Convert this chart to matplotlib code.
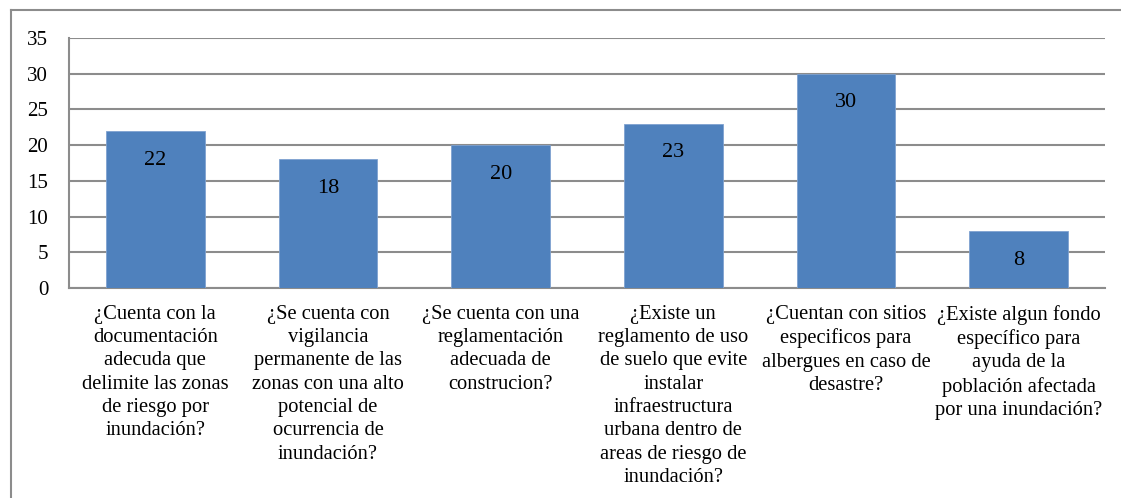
import matplotlib
matplotlib.use("Agg")
import matplotlib.pyplot as plt
from matplotlib.lines import Line2D

categories = [
    "¿Cuenta con la\ndocumentación\nadecuda que\ndelimite las zonas\nde riesgo por\ninundación?",
    "¿Se cuenta con\nvigilancia\npermanente de las\nzonas con una alto\npotencial de\nocurrencia de\ninundación?",
    "¿Se cuenta con una\nreglamentación\nadecuada de\nconstrucion?",
    "¿Existe un\nreglamento de uso\nde suelo que evite\ninstalar\ninfraestructura\nurbana dentro de\nareas de riesgo de\ninundación?",
    "¿Cuentan con sitios\nespecificos para\nalbergues en caso de\ndesastre?",
    "¿Existe algun fondo\nespecífico para\nayuda de la\npoblación afectada\npor una inundación?",
]
values = [22, 18, 20, 23, 30, 8]
y_ticks = [0, 5, 10, 15, 20, 25, 30, 35]

plt.rcParams["font.family"] = ["Liberation Serif", "DejaVu Serif"]

fig = plt.figure(figsize=(11.21, 4.98), dpi=100)
ax = fig.add_axes([69 / 1121, 1 - 288 / 498, (1105 - 69) / 1121, (288 - 38) / 498])

x = range(len(values))
bars = ax.bar(x, values, width=0.57, color="#4F81BD", edgecolor="#7FA2D0", linewidth=0.6, zorder=3)

for b, v in zip(bars, values):
    ax.annotate(str(v), (b.get_x() + b.get_width() / 2, v), xytext=(0, -21),
                textcoords="offset points", ha="center", va="center", fontsize=16, zorder=4)

ax.set_xlim(-0.5, len(values) - 0.5)
ax.set_ylim(0, 35)
ax.set_yticks(y_ticks)
ax.set_xticks(list(x))
ax.set_xticklabels(categories, fontsize=14.8, linespacing=1.31, ha="center", va="top")
ax.tick_params(axis="x", length=0, pad=12)
ax.tick_params(axis="y", length=0, pad=15, labelsize=15)
ax.yaxis.grid(True, color="#8C8C8C", linewidth=1.5, zorder=0)
ax.set_axisbelow(True)

for side in ["top", "right"]:
    ax.spines[side].set_visible(False)
for side in ["left", "bottom"]:
    ax.spines[side].set_color("#8C8C8C")
    ax.spines[side].set_linewidth(1.5)

# outer frame (top and left edges only visible)
fx, fy = 10.5 / 1121, 1 - 10.5 / 498
fig.add_artist(Line2D([fx, 1], [fy, fy], transform=fig.transFigure, color="#8C8C8C", linewidth=1.5))
fig.add_artist(Line2D([fx, fx], [0, fy], transform=fig.transFigure, color="#8C8C8C", linewidth=1.5))

fig.savefig("out.png", dpi=100)
